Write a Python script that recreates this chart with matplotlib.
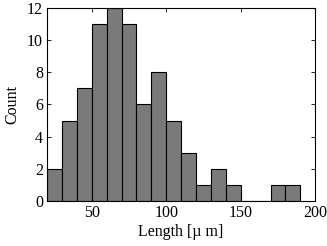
import matplotlib
matplotlib.use('Agg')
from matplotlib import pyplot as plt

bin_left = [20, 30, 40, 50, 60, 70, 80, 90, 100, 110, 120, 130, 140, 150, 160, 170, 180]
counts = [2, 5, 7, 11, 12, 11, 6, 8, 5, 3, 1, 2, 1, 0, 0, 1, 1]
bin_width = 10

plt.rcParams['font.family'] = ['Liberation Serif', 'DejaVu Serif']
plt.rcParams['font.size'] = 11.5

fig = plt.figure(figsize=(3.27, 2.46), dpi=100)
ax = fig.add_axes([0.144, 0.183, 0.82, 0.785])

ax.bar(bin_left, counts, width=bin_width, align='edge',
       color='#7a7a7a', edgecolor='black', linewidth=0.8)

ax.set_xlim(20, 200)
ax.set_ylim(0, 12)
ax.set_xticks([50, 100, 150, 200])
ax.set_yticks([0, 2, 4, 6, 8, 10, 12])
ax.tick_params(direction='in', top=True, right=True, length=3, width=0.6, pad=3)
for s in ax.spines.values():
    s.set_linewidth(0.8)
ax.set_xlabel('Length [µ m]', labelpad=2)
ax.set_ylabel('Count', labelpad=5)

fig.savefig('out.png', dpi=100)
